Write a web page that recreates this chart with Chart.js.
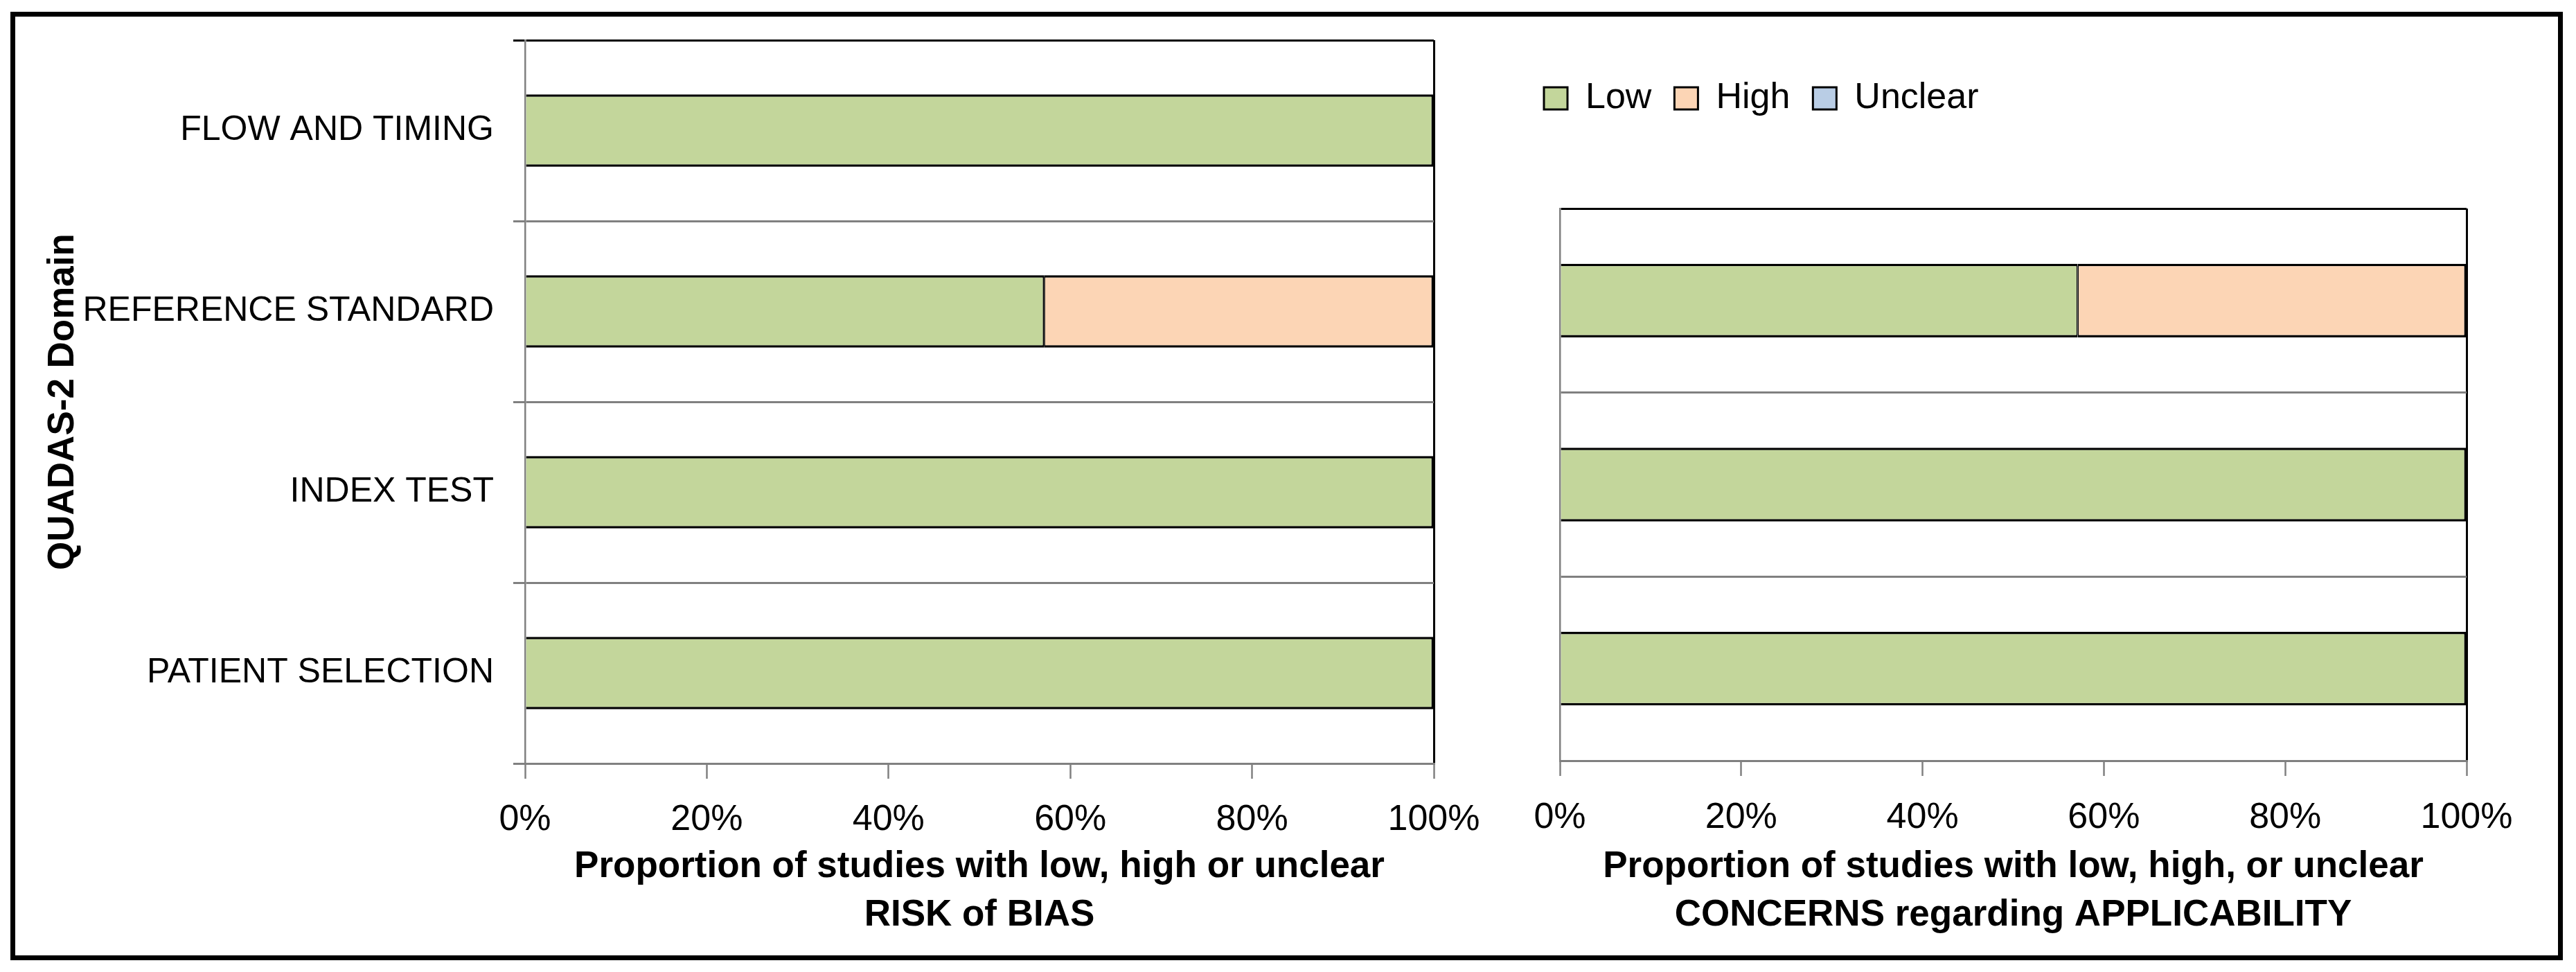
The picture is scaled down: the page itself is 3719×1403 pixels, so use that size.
<!DOCTYPE html>
<html>
<head>
<meta charset="utf-8">
<script src="https://cdn.jsdelivr.net/npm/chart.js@4.4.1/dist/chart.umd.min.js"></script>
<style>
  html, body { margin: 0; padding: 0; background: #fff; }
  #wrap { position: relative; width: 3719px; height: 1403px; background: #fff; overflow: hidden; }
  #frame { position: absolute; left: 15px; top: 17px; width: 3685px; height: 1369px; box-sizing: border-box; border: 7px solid #000; pointer-events: none; z-index: 5; }
  #c1 { position: absolute; left: 0; top: 0; z-index: 2; }
  #c2 { position: absolute; left: 2150px; top: 0; z-index: 1; }
</style>
</head>
<body>
<div id="wrap">
  <canvas id="c1" width="2170" height="1403"></canvas>
  <canvas id="c2" width="1569" height="1403"></canvas>
  <div id="frame"></div>
</div>
<script>
// ---- data ----
const biasCategories = ['FLOW AND TIMING', 'REFERENCE STANDARD', 'INDEX TEST', 'PATIENT SELECTION'];
const biasLow = [100, 57.1, 100, 100];
const biasHigh = [0, 42.9, 0, 0];
const biasUnclear = [0, 0, 0, 0];

const applCategories = ['REFERENCE STANDARD', 'INDEX TEST', 'PATIENT SELECTION'];
const applLow = [57.1, 100, 100];
const applHigh = [42.9, 0, 0];
const applUnclear = [0, 0, 0];

const xTickValues = [0, 20, 40, 60, 80, 100];
const seriesNames = ['Low', 'High', 'Unclear'];
const seriesColors = ['#C3D69B', '#FCD5B5', '#B9CDE5'];

const yTitle = 'QUADAS-2 Domain';
const biasTitle = ['Proportion of studies with low, high or unclear', 'RISK of BIAS'];
const applTitle = ['Proportion of studies with low, high, or unclear', 'CONCERNS regarding APPLICABILITY'];

// ---- styling ----
Chart.defaults.font.family = "'Liberation Sans', Arial, sans-serif";
Chart.defaults.color = '#000';
const GRAY = '#808080';

function lowBorder(ctx) {
  const v = ctx.raw;
  return {top: 3.5, bottom: 3.5, left: 0, right: (typeof v === 'number' && v < 100) ? 1.75 : 3.5};
}
function otherBorder(ctx) {
  return {top: 3.5, bottom: 3.5, left: 1.75, right: 3.5};
}

function makeDatasets(low, high, unclear) {
  const vals = [low, high, unclear];
  return vals.map((d, i) => ({
    label: seriesNames[i],
    data: d,
    backgroundColor: seriesColors[i],
    borderColor: '#000',
    borderWidth: i === 0 ? lowBorder : otherBorder,
    borderSkipped: false,
    barPercentage: 0.4,
    categoryPercentage: 1.0,
    stack: 's'
  }));
}

function xScale(titleLines, scaleHeight, tickPad) {
  return {
    type: 'linear',
    stacked: true,
    min: 0,
    max: 100,
    z: 1,
    afterBuildTicks: s => { s.ticks = xTickValues.map(v => ({value: v})); },
    afterFit: s => { s.height = scaleHeight; },
    ticks: {
      font: {size: 52},
      color: '#000',
      padding: tickPad,
      maxRotation: 0,
      autoSkip: false,
      callback: v => v + '%'
    },
    grid: {
      drawOnChartArea: true,
      color: c => (c.tick && c.tick.value === 100) ? '#000' : 'rgba(0,0,0,0)',
      lineWidth: 3,
      tickColor: GRAY,
      tickWidth: 2.5,
      tickLength: 22
    },
    border: {display: true, color: GRAY, width: 3},
    title: {
      display: true,
      text: titleLines,
      font: {size: 53, weight: 'bold', lineHeight: 70 / 53},
      color: '#000',
      padding: {top: 0, bottom: 47}
    }
  };
}

function yGrid(drawTicks) {
  return {
    offset: true,
    drawTicks: drawTicks,
    tickLength: 17,
    color: c => c.index === 0 ? '#000' : GRAY,
    lineWidth: 3
  };
}

// ---- left chart: risk of bias ----
new Chart(document.getElementById('c1'), {
  type: 'bar',
  data: {labels: biasCategories, datasets: makeDatasets(biasLow, biasHigh, biasUnclear)},
  options: {
    indexAxis: 'y',
    responsive: false,
    animation: false,
    devicePixelRatio: 1,
    layout: {padding: {left: 0, top: 47, right: 100, bottom: 0}},
    plugins: {legend: {display: false}, tooltip: {enabled: false}},
    scales: {
      x: xScale(biasTitle, 301, 28),
      y: {
        type: 'category',
        stacked: true,
        z: 1,
        afterFit: s => { s.width = 758; },
        ticks: {font: {size: 50}, color: '#000', padding: 28, autoSkip: false},
        grid: yGrid(true),
        border: {display: true, color: GRAY, width: 2.5},
        title: {
          display: true,
          text: yTitle,
          font: {size: 53, weight: 'bold'},
          color: '#000',
          padding: {top: 60, bottom: 0}
        }
      }
    }
  }
});

// ---- right chart: applicability ----
new Chart(document.getElementById('c2'), {
  type: 'bar',
  data: {labels: applCategories, datasets: makeDatasets(applLow, applHigh, applUnclear)},
  options: {
    indexAxis: 'y',
    responsive: false,
    animation: false,
    devicePixelRatio: 1,
    layout: {padding: {left: 46, top: 83, right: 158, bottom: 0}},
    plugins: {
      tooltip: {enabled: false},
      legend: {
        display: true,
        position: 'top',
        align: 'start',
        labels: {
          font: {size: 52},
          color: '#000',
          boxWidth: 34,
          boxHeight: 32,
          padding: 33,
          generateLabels: chart => Chart.defaults.plugins.legend.labels.generateLabels(chart)
            .map(l => Object.assign(l, {lineWidth: 3, strokeStyle: '#000'}))
        }
      },
      title: {
        display: true,
        text: ' ',
        weight: 500,
        font: {size: 10},
        padding: {top: 0, bottom: 111}
      }
    },
    scales: {
      x: xScale(applTitle, 305, 29),
      y: {
        type: 'category',
        stacked: true,
        z: 1,
        afterFit: s => { s.width = 56; },
        ticks: {display: false},
        grid: yGrid(false),
        border: {display: true, color: GRAY, width: 2.5}
      }
    }
  }
});
</script>
</body>
</html>
